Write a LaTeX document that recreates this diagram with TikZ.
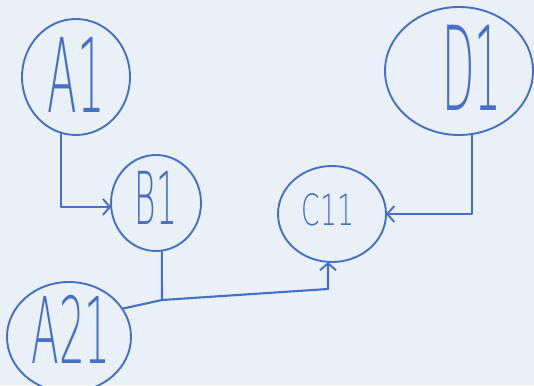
\documentclass[tikz,border=0pt]{standalone}
\usepackage{fontspec}
\usepackage{graphicx}
\newfontfamily\hand{DejaVu Sans ExtraLight}
\usetikzlibrary{shapes.geometric,arrows.meta}
\definecolor{board}{HTML}{E9F0F8}
\definecolor{marker}{HTML}{4570C8}
\tikzset{
  bubble/.style={ellipse,draw=marker,line width=1.9pt,inner sep=0pt,outer sep=0pt},
  word/.style={inner sep=0pt,text=marker},
  link/.style={draw=marker,line width=2.1pt,line join=round,line cap=round},
  arrowlink/.style={link,-{Straight Barb[length=7pt,width=16pt,line width=1.9pt]}}
}
\newcommand{\handtext}[3]{\scalebox{#2}[1]{\hand\fontsize{#1}{#1}\selectfont #3}}
\begin{document}
\begin{tikzpicture}[x=1pt,y=1pt]
\fill[board] (0,0) rectangle (534,385);
\useasboundingbox (0,0) rectangle (534,385);
% circles
\node[bubble,minimum width=108pt,minimum height=116pt] (A1) at (76,308) {};
\node[bubble,minimum width=90pt,minimum height=96pt] (B1) at (156,182) {};
\node[bubble,minimum width=108pt,minimum height=96pt] (C11) at (332,171) {};
\node[bubble,minimum width=148pt,minimum height=128pt] (D1) at (459,314) {};
\node[bubble,minimum width=124pt,minimum height=110pt] (A21) at (69,48) {};
% labels
\node[word] (A1t) at (76,310) {\handtext{103}{0.42}{A1}};
\node[word] (B1t) at (156,187) {\handtext{73}{0.45}{B1}};
\node[word] (C11t) at (328,175) {\handtext{43}{0.62}{C11}};
\node[word] (D1t) at (472,317) {\handtext{117}{0.36}{D1}};
\node[word] (A21t) at (71,56) {\handtext{92}{0.44}{A21}};
% junctions
\coordinate (J) at (162,85);
\coordinate (K) at (328,96);
% connectors
\draw[arrowlink] (A1.255) |- (B1.185);
\draw[arrowlink] (D1.282) |- (C11.east);
\draw[link] (B1.277) -- (J);
\draw[arrowlink] (A21.28) -- (J) -- (K) -- (K |- C11.south);
\end{tikzpicture}
\end{document}
